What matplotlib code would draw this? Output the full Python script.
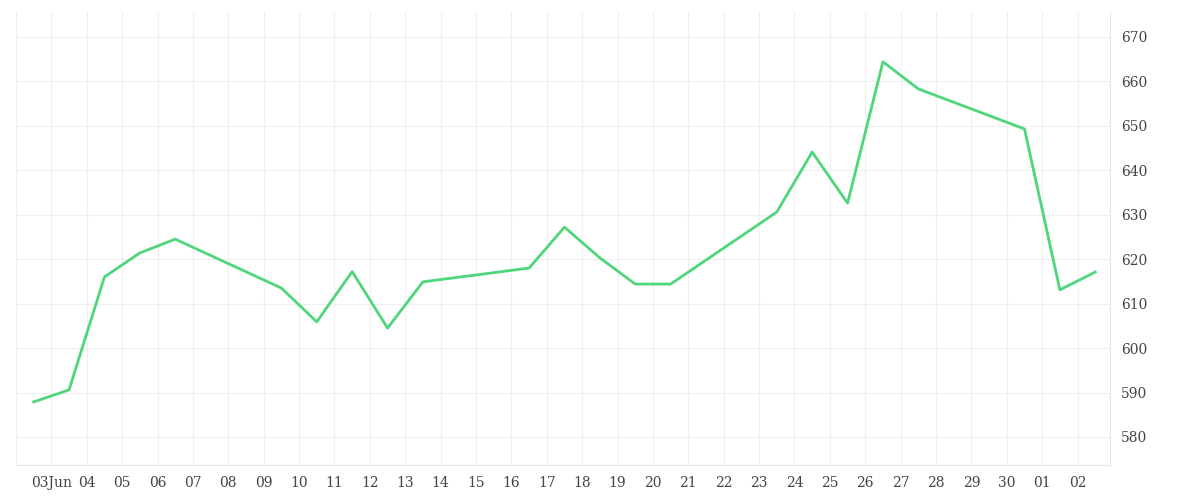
import matplotlib
matplotlib.use("Agg")
import matplotlib.pyplot as plt
import matplotlib.dates as mdates
import pandas as pd

dates = ["2024-06-02","2024-06-03","2024-06-04","2024-06-05","2024-06-06","2024-06-09","2024-06-10",
         "2024-06-11","2024-06-12","2024-06-13","2024-06-16","2024-06-17","2024-06-18","2024-06-19",
         "2024-06-20","2024-06-23","2024-06-24","2024-06-25","2024-06-26","2024-06-27","2024-06-30",
         "2024-07-01","2024-07-02"]
values = [587.9,590.6,616.0,621.4,624.5,613.5,605.9,617.2,604.5,614.9,618.0,627.2,620.3,614.4,
          614.4,630.6,644.1,632.6,664.4,658.3,649.3,613.1,617.1]
yticks = [580,590,600,610,620,630,640,650,660,670]

x = pd.to_datetime(dates) + pd.Timedelta(hours=12)

fig = plt.figure(figsize=(12,5), dpi=100)
ax = fig.add_axes([16/1200, 1-465/500, (1110-16)/1200, (465-12)/500])
ax.plot(x, values, color="#4fd67b", lw=2)

ticks = pd.date_range("2024-06-03", "2024-07-02", freq="D")
ax.set_xticks(ticks)
ax.set_xticklabels([("03Jun" if i == 0 else t.strftime("%d")) for i, t in enumerate(ticks)])
ax.set_xticks(pd.date_range("2024-06-02", "2024-07-02", freq="D"), minor=True)
ax.set_xlim(pd.Timestamp("2024-06-02"), pd.Timestamp("2024-07-02 22:00"))
ax.set_ylim(573.7, 675.6)
ax.set_yticks(yticks)
ax.yaxis.tick_right()
ax.grid(True, which="both", color="#efefef", lw=0.8)
ax.tick_params(which="both", length=0, labelsize=10, colors="#444444", pad=8)
for s in ax.spines.values():
    s.set_visible(False)
ax.spines["right"].set_visible(True); ax.spines["right"].set_color("#e6e6e6")
ax.spines["bottom"].set_visible(True); ax.spines["bottom"].set_color("#e6e6e6")
for lab in ax.get_xticklabels() + ax.get_yticklabels():
    lab.set_family("DejaVu Serif")
fig.savefig("out.png")
